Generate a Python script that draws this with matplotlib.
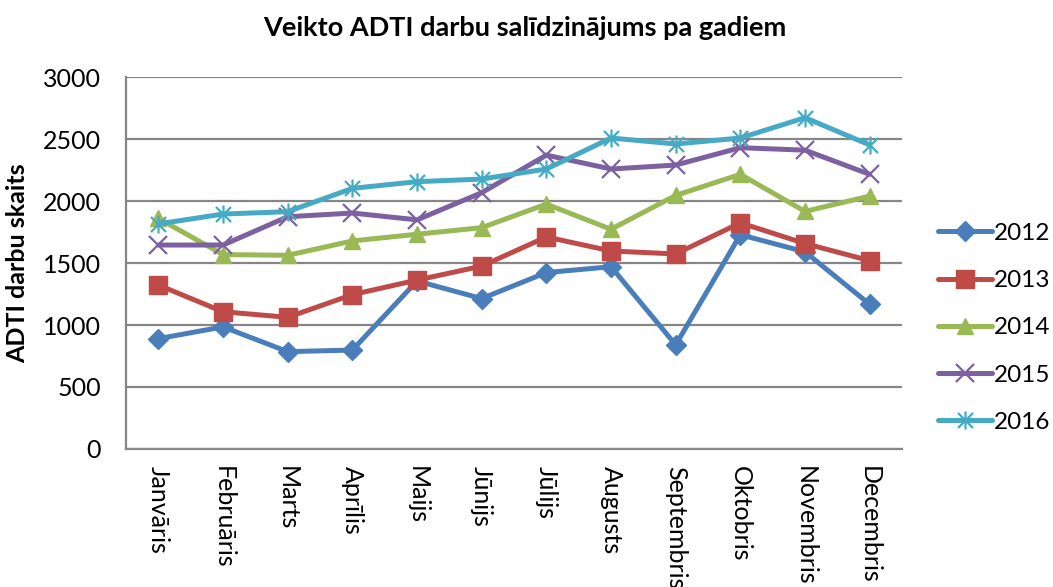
import numpy as np
import matplotlib.pyplot as plt
from matplotlib.path import Path

plt.rcParams['font.family'] = ['Lato', 'DejaVu Sans']

months = ['Janvāris', 'Februāris', 'Marts', 'Aprīlis', 'Maijs', 'Jūnijs',
          'Jūlijs', 'Augusts', 'Septembris', 'Oktobris', 'Novembris', 'Decembris']
years = ['2012', '2013', '2014', '2015', '2016']

v2012 = [890, 985, 785, 798, 1355, 1213, 1423, 1470, 840, 1728, 1590, 1167]
v2013 = [1322, 1107, 1062, 1245, 1362, 1475, 1710, 1597, 1573, 1824, 1657, 1519]
v2014 = [1860, 1568, 1562, 1678, 1732, 1785, 1975, 1772, 2045, 2215, 1916, 2040]
v2015 = [1645, 1645, 1873, 1903, 1848, 2067, 2370, 2258, 2290, 2430, 2410, 2215]
v2016 = [1815, 1895, 1914, 2102, 2156, 2177, 2258, 2508, 2460, 2508, 2672, 2452]

# Excel style "star" marker: an x with a vertical stroke
star = Path([(-1, -1), (1, 1), (-1, 1), (1, -1), (0, -1.2), (0, 1.2)],
            [Path.MOVETO, Path.LINETO, Path.MOVETO, Path.LINETO, Path.MOVETO, Path.LINETO])

series = [v2012, v2013, v2014, v2015, v2016]
colors = ['#4A7EBB', '#BE4B48', '#98B954', '#7D60A0', '#46AAC5']
markers = ['D', 's', '^', 'x', star]
msizes = [10, 13, 12, 13, 13]

fig = plt.figure(figsize=(10.53, 5.87), dpi=100)
ax = fig.add_axes([0.1197, 0.2351, 0.7369, 0.6337])

x = np.arange(len(months))
for vals, lab, c, m, ms in zip(series, years, colors, markers, msizes):
    filled = m in ('D', 's', '^')
    ax.plot(x, vals, color=c, lw=3.6, marker=m, markersize=ms,
            markerfacecolor=c, markeredgecolor=c,
            markeredgewidth=1 if filled else 1.6, label=lab,
            solid_capstyle='round', solid_joinstyle='round')

ax.set_xlim(-0.5, 11.5)
ax.set_ylim(0, 3000)
ax.set_yticks(np.arange(0, 3001, 500))
ax.set_xticks(x)
ax.set_xticklabels(months, rotation=-90, va='top', ha='center')
ax.tick_params(axis='both', length=0)
ax.tick_params(axis='y', pad=18, labelsize=18)
ax.tick_params(axis='x', pad=12, labelsize=18)
ax.yaxis.grid(True, color='#868686', lw=1.6)
ax.set_axisbelow(True)
for s in ['top', 'right']:
    ax.spines[s].set_visible(False)
for s in ['left', 'bottom']:
    ax.spines[s].set_color('#868686')
    ax.spines[s].set_linewidth(1.6)

ax.set_ylabel('ADTI darbu skaits', fontsize=18, fontweight='bold', labelpad=10)
fig.text(0.4985, 0.952, 'Veikto ADTI darbu salīdzinājums pa gadiem',
         ha='center', va='center', fontsize=19.5, fontweight='bold')

leg = fig.legend(loc='upper left', bbox_to_anchor=(0.882, 0.637), frameon=False,
                 fontsize=17.5, handlelength=2.2, labelspacing=1.08,
                 handletextpad=0.1, borderaxespad=0)

fig.savefig('out.png', dpi=100)
